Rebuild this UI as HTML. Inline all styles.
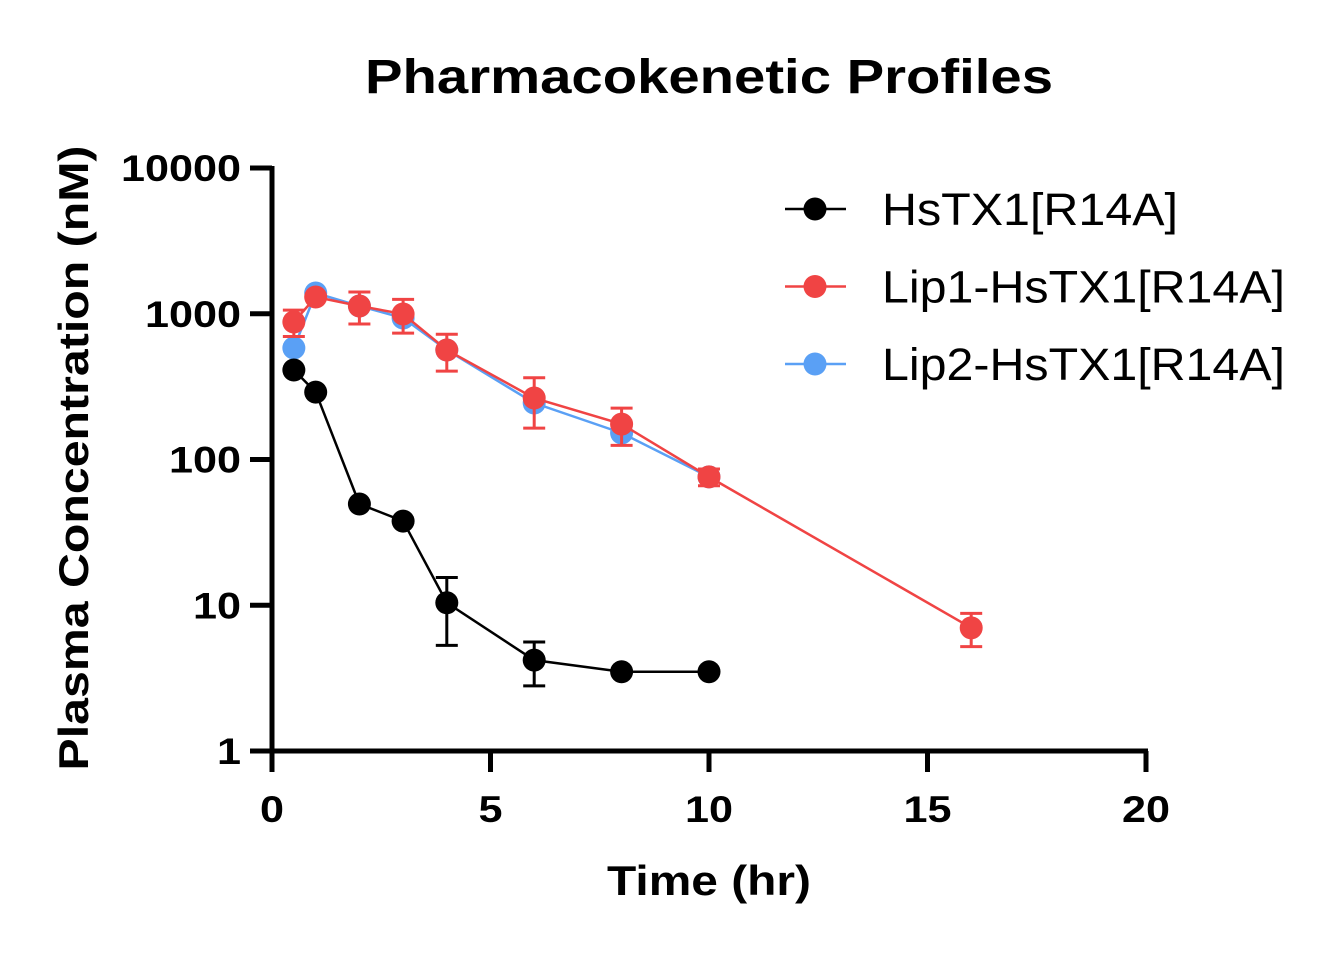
<!DOCTYPE html>
<html><head><meta charset="utf-8"><style>
body{margin:0;background:#fff}
svg text{font-family:"Liberation Sans",Arial,sans-serif}
</style></head><body>
<svg id="chart" width="1331" height="950" viewBox="0 0 1331 950" xmlns="http://www.w3.org/2000/svg">
<text x="709" y="93" text-anchor="middle" font-size="48" font-weight="bold" textLength="688" lengthAdjust="spacingAndGlyphs">Pharmacokenetic Profiles</text>
<text transform="translate(88,458) rotate(-90)" text-anchor="middle" font-size="42" font-weight="bold" textLength="625" lengthAdjust="spacingAndGlyphs">Plasma Concentration (nM)</text>
<text x="709" y="895" text-anchor="middle" font-size="42" font-weight="bold" textLength="204" lengthAdjust="spacingAndGlyphs">Time (hr)</text>
<g id="axes"></g>
<g id="series"></g>
<g id="legend"></g>
</svg>
<script>
const xTicks=[0,5,10,15,20];
const yTicks=[1,10,100,1000,10000];
const yTickLabels=["1","10","100","1000","10000"];
const names=["HsTX1[R14A]","Lip1-HsTX1[R14A]","Lip2-HsTX1[R14A]"];
const colors=["#000000","#f04444","#5aa0f5"];
const tHs=[0.5,1,2,3,4,6,8,10];
const vHs=[411,290,49.5,37.8,10.4,4.2,3.5,3.5];
const errHs=[0,0,0,0,5.1,1.4,0,0];
const tLip1=[0.5,1,2,3,4,6,8,10,16];
const vLip1=[878,1303,1130,996,564,264,175,76,7];
const errLip1=[180,0,280,260,160,100,50,10,1.8];
const tLip2=[0.5,1,2,3,4,6,8,10];
const vLip2=[582,1387,1130,935,564,244,152,76];
const ns="http://www.w3.org/2000/svg";
function X(t){return 272+t*43.7;}
function Y(v){return 751-145.75*Math.log10(v);}
function mk(tag,attrs,parent){const e=document.createElementNS(ns,tag);for(const k in attrs)e.setAttribute(k,attrs[k]);parent.appendChild(e);return e;}
const axes=document.getElementById('axes');
let a=mk('line',{x1:272,y1:166,x2:272,y2:753,stroke:'#000','stroke-width':5},axes);


a=mk('line',{x1:270,y1:751,x2:1148,y2:751,stroke:'#000','stroke-width':5},axes);


yTicks.forEach((v,i)=>{
 const l=mk('line',{x1:250,y1:Y(v),x2:272,y2:Y(v),stroke:'#000','stroke-width':5},axes);
 
 
 const lab=yTickLabels[i];
 const t=mk('text',{x:241,y:Y(v)+13,'text-anchor':'end','font-size':37,'font-weight':'bold',textLength:24*lab.length,lengthAdjust:'spacingAndGlyphs'},axes);
 t.textContent=lab;
 
 
});
xTicks.forEach(v=>{
 const l=mk('line',{x1:X(v),y1:751,x2:X(v),y2:772,stroke:'#000','stroke-width':5},axes);
 
 
 const s=String(v);
 const t=mk('text',{x:X(v),y:822,'text-anchor':'middle','font-size':37,'font-weight':'bold',textLength:24*s.length,lengthAdjust:'spacingAndGlyphs'},axes);
 t.textContent=s;
 
 
});
const ser=document.getElementById('series');
function drawSeries(ts,vs,errs,col,name){
 const g=mk('g',{},ser);
 
 
 const pl=mk('polyline',{points:ts.map((t,i)=>X(t)+','+Y(vs[i])).join(' '),fill:'none',stroke:col,'stroke-width':2.5},g);
 
 
 ts.forEach((t,i)=>{
  if(errs&&errs[i]>0){
   const top=Y(vs[i]+errs[i]),bot=Y(Math.max(vs[i]-errs[i],0.5));
   const eg=mk('g',{stroke:col,'stroke-width':3},g);
   
   
   mk('line',{x1:X(t),y1:top,x2:X(t),y2:bot},eg);
   mk('line',{x1:X(t)-11,y1:top,x2:X(t)+11,y2:top},eg);
   mk('line',{x1:X(t)-11,y1:bot,x2:X(t)+11,y2:bot},eg);
  }
  const c=mk('circle',{cx:X(t),cy:Y(vs[i]),r:11.5,fill:col},g);
  
  
 });
}
drawSeries(tLip2,vLip2,null,colors[2],'lip2-series');
drawSeries(tLip1,vLip1,errLip1,colors[1],'lip1-series');
drawSeries(tHs,vHs,errHs,colors[0],'hstx1-series');
const leg=document.getElementById('legend');
const legW=[296,403,403];
names.forEach((n,i)=>{
 const y=209+i*77.5;
 const g=mk('g',{},leg);
 
 
 mk('line',{x1:785,y1:y,x2:846,y2:y,stroke:colors[i],'stroke-width':2.5},g);
 mk('circle',{cx:815,cy:y,r:11.5,fill:colors[i]},g);
 const t=mk('text',{x:882,y:y+16,'font-size':45,textLength:legW[i],lengthAdjust:'spacingAndGlyphs'},g);
 t.textContent=n;
});
</script>
</body></html>
